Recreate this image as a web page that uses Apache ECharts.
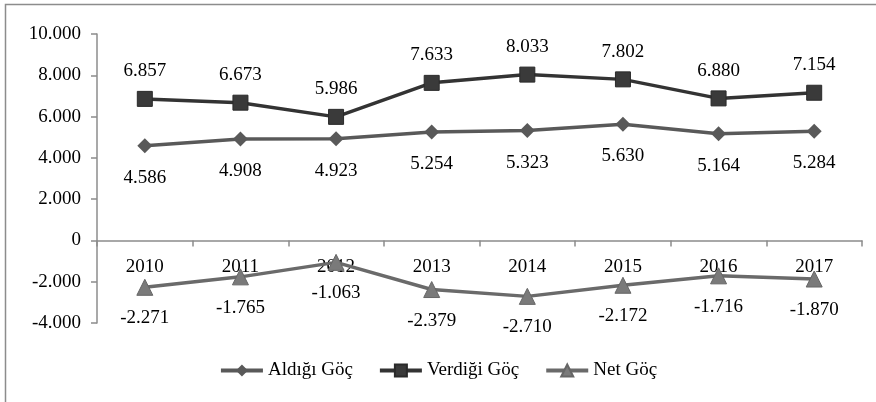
<!DOCTYPE html>
<html><head><meta charset="utf-8">
<script src="https://cdn.jsdelivr.net/npm/echarts@6/dist/echarts.min.js"></script>
<style>html,body{margin:0;padding:0;background:#fff}#c{width:876px;height:402px}</style>
</head><body><div id="c"></div>
<script>
const categories = ['2010','2011','2012','2013','2014','2015','2016','2017'];
const aldigi = [4586,4908,4923,5254,5323,5630,5164,5284];
const verdigi = [6857,6673,5986,7633,8033,7802,6880,7154];
const net = [-2271,-1765,-1063,-2379,-2710,-2172,-1716,-1870];
const yTicks = {min:-4000, max:10000, interval:2000};

function fmt(v){
  const neg = v < 0; let s = String(Math.abs(Math.round(v)));
  s = s.replace(/\B(?=(\d{3})+(?!\d))/g, '.');
  return (neg ? '-' : '') + s;
}
const FONT = '"Liberation Serif", serif';
const FS = 19;
const GRID = {left:97, right:14, top:34, bottom:79};
const plotH = 402 - GRID.top - GRID.bottom;
const zeroOffset = -plotH * (0 - yTicks.min) / (yTicks.max - yTicks.min);
const chart = echarts.init(document.getElementById('c'));
const lbl = (pos, dist) => ({show:true, position:pos, distance:dist, color:'#000', fontFamily:FONT, fontSize:FS, formatter:p=>fmt(p.value)});
chart.setOption({
  animation:false,
  textStyle:{fontFamily:FONT},
  graphic:[{type:'rect', shape:{x:5.5,y:4.5,width:900,height:500}, style:{fill:'none', stroke:'#8c8c8c', lineWidth:1.5}, silent:true}],
  grid:Object.assign({containLabel:false}, GRID),
  xAxis:{type:'category', data:categories, boundaryGap:true, offset:zeroOffset,
    axisLine:{onZero:false, lineStyle:{color:'#8c8c8c', width:1.5}},
    axisTick:{show:true, length:6, lineStyle:{color:'#8c8c8c', width:1.5}},
    axisLabel:{color:'#000', fontFamily:FONT, fontSize:FS, margin:17}},
  yAxis:{type:'value', min:yTicks.min, max:yTicks.max, interval:yTicks.interval,
    splitLine:{show:false},
    axisLine:{show:true, lineStyle:{color:'#8c8c8c', width:1.5}},
    axisTick:{show:true, length:6, lineStyle:{color:'#8c8c8c', width:1.5}},
    axisLabel:{color:'#000', fontFamily:FONT, fontSize:FS, margin:16, formatter:v=>fmt(v)}},
  legend:{bottom:17, left:'center', itemGap:25, itemWidth:42, itemHeight:15,
    lineStyle:{width:4},
    textStyle:{color:'#000', fontFamily:FONT, fontSize:FS},
    data:['Aldığı Göç','Verdiği Göç','Net Göç']},
  series:[
    {name:'Aldığı Göç', type:'line', data:aldigi, symbol:'diamond', symbolSize:15,
      lineStyle:{color:'#595959', width:3.5}, itemStyle:{color:'#595959'}, label:lbl('bottom',15)},
    {name:'Verdiği Göç', type:'line', data:verdigi, symbol:'rect', symbolSize:15,
      lineStyle:{color:'#333333', width:3.5}, itemStyle:{color:'#3a3a3a', borderColor:'#2a2a2a', borderWidth:1}, label:lbl('top',10)},
    {name:'Net Göç', type:'line', data:net, symbol:'triangle', symbolSize:16,
      lineStyle:{color:'#6a6a6a', width:3.5}, itemStyle:{color:'#7a7a7a', borderColor:'#666', borderWidth:1}, label:lbl('bottom',13)}
  ]
});
</script></body></html>
